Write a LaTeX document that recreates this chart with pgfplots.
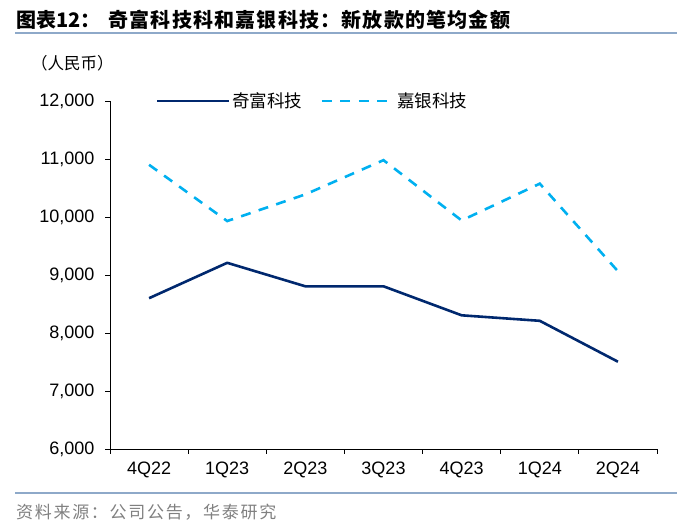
\documentclass[border=0pt]{standalone}
\usepackage{fontspec}
\setmainfont{Liberation Sans}
\newfontfamily\cjk{Noto Sans CJK SC}
\usepackage{pgfplots}
\pgfplotsset{compat=1.18}
\definecolor{navy}{RGB}{0,40,110}
\definecolor{skyb}{RGB}{0,176,240}
\definecolor{rulec}{RGB}{142,169,201}
\begin{document}
\begin{tikzpicture}[x=1pt,y=1pt]
  \useasboundingbox (0,0) rectangle (700,529);
  % header and footer
  \node[anchor=west, inner sep=0pt] at (16,509)
    {\cjk\bfseries\fontsize{20}{22}\selectfont 图表12：\hspace{8pt}\addfontfeatures{LetterSpace=6}奇富科技科和嘉银科技：新放款的笔均金额};
  \draw[rulec, line width=2pt] (15,496) -- (677,496);
  \node[anchor=west, inner sep=0pt] at (31,466)
    {\cjk\fontsize{16.5}{19}\selectfont （人民币）};
  \draw[rulec, line width=1.2pt] (15,36) -- (677,36);
  \node[anchor=west, inner sep=0pt, text=gray] at (16,17)
    {\cjk\fontsize{17}{19}\selectfont\addfontfeatures{LetterSpace=10}资料来源：公司公告，华泰研究};

  \begin{axis}[
    at={(110pt,80pt)}, anchor=south west,
    scale only axis, width=547pt, height=348pt,
    xmin=-0.5, xmax=6.5, ymin=6000, ymax=12000,
    axis x line*=bottom, axis y line*=left,
    axis line style={-, black, line width=0.8pt},
    xtick={-0.5,0.5,...,6.5},
    x tick label as interval,
    xticklabels={4Q22,1Q23,2Q23,3Q23,4Q23,1Q24,2Q24},
    ytick={6000,7000,...,12000},
    scaled y ticks=false,
    tick align=outside, major tick length=5pt,
    tick style={black, line width=0.8pt},
    /pgf/number format/.cd, 1000 sep={,}, assume math mode=true, /pgfplots/.cd,
    tick label style={font=\fontsize{18}{20}\selectfont},
    yticklabel style={xshift=-7pt},
    xticklabel style={yshift=-4pt},
    legend columns=2,
    legend style={at={(0.078,1)}, anchor=west, draw=none, fill=none,
      font=\cjk\fontsize{17.5}{20}\selectfont,
      /tikz/every even column/.append style={column sep=16pt}},
    legend image code/.code={\draw[#1] (0pt,0pt) -- (66pt,0pt); \path (0pt,0pt) -- (72pt,0pt);},
  ]
  \addplot[navy, line width=2.6pt, line join=round] coordinates {
    (0,8600) (1,9210) (2,8805) (3,8805) (4,8305) (5,8210) (6,7505)};
  \addlegendentry{奇富科技}
  \addplot[skyb, line width=2.6pt, dash pattern=on 10pt off 8.5pt] coordinates {
    (0,10900) (1,9930) (2,10390) (3,10980) (4,9940) (5,10575) (6,9065)};
  \addlegendentry{嘉银科技}
  \end{axis}
\end{tikzpicture}
\end{document}
